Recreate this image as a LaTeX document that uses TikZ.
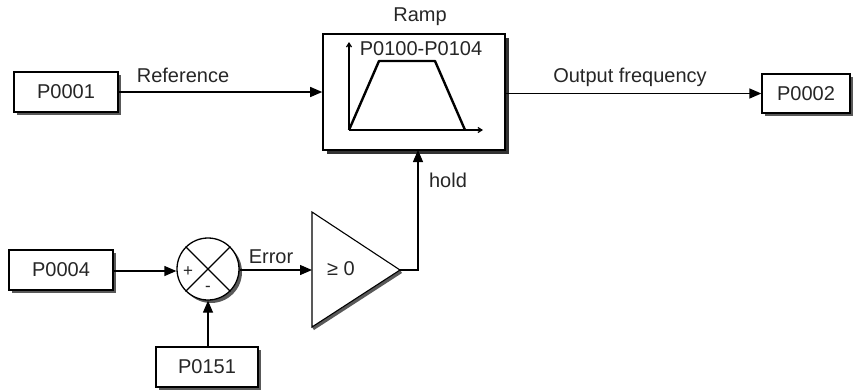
\documentclass[tikz,border=0pt]{standalone}
\usepackage{fontspec}
\setmainfont{Liberation Sans}
\usetikzlibrary{shadows,arrows.meta,calc}
\tikzset{
  pbox/.style={draw, line width=1.3pt, fill=white, inner sep=0pt,
    minimum width=104pt, minimum height=40pt,
    drop shadow={shadow xshift=3pt, shadow yshift=-3pt, fill=black!65, opacity=1}},
  conn/.style={line width=1.3pt, -{Triangle[length=12pt,width=10pt]}},
  lbl/.style={inner sep=0pt, text=black!85},
}
\begin{document}
\begin{tikzpicture}[x=1pt,y=-1pt, font=\fontsize{20}{22}\selectfont]
\useasboundingbox (0,0) rectangle (859,389);
% top row
\node[pbox, text=black!85] (p1) at (66,92) {P0001};
\node[draw, line width=1.6pt, fill=white, minimum width=182pt, minimum height=116pt, inner sep=0pt,
  drop shadow={shadow xshift=4pt, shadow yshift=-4pt, fill=black!80, opacity=1}] (ramp) at (414,92) {};
\node[pbox, text=black!85, minimum width=88pt, minimum height=39pt] (p2) at (806,93.5) {P0002};
\node[lbl] (ramplbl) at (420,17) {Ramp};
\node[lbl] (rangelbl) at (421,49) {P0100-P0104};
% ramp chart
\coordinate (o) at (349,130);
\coordinate (yt) at (349,42);
\coordinate (xt) at (483,130);
\draw[line width=1.2pt, -{Straight Barb[length=4pt,width=5pt]}] (o) -- (yt);
\draw[line width=1.2pt, -{Straight Barb[length=4pt,width=5pt]}] (o) -- (xt);
\coordinate (t1) at (379,61);
\coordinate (t2) at (435,61);
\coordinate (t3) at (465,130);
\draw[line width=2.4pt, line join=round] (o) -- (t1) -- (t2) -- (t3);
% connectors top
\draw[conn] (p1.east) -- (ramp.west);
\node[lbl] (reflbl) at (183,75) {Reference};
\draw[conn] (ramp.east |- p2.west) -- (p2.west);
\node[lbl] (outlbl) at (630,77) {Output frequency};
% bottom row
\node[pbox, text=black!85] (p4) at (61,270) {P0004};
\node[draw, circle, line width=1.3pt, fill=white, minimum size=62pt, inner sep=0pt,
  drop shadow={shadow xshift=3pt, shadow yshift=-3pt, fill=black!65, opacity=1}] (sum) at (208,269) {};
\draw[line width=1.2pt] (sum.north east) -- (sum.south west);
\draw[line width=1.2pt] (sum.north west) -- (sum.south east);
\node[lbl, font=\fontsize{17}{18}\selectfont] (plus) at (188,272) {+};
\node[lbl, font=\fontsize{17}{18}\selectfont] (minus) at (208,289) {-};
\node[pbox, text=black!85, minimum width=102pt] (p151) at (207,367) {P0151};
\draw[conn] (p4.east |- 0,271) -- (sum.west |- 0,271);
\draw[conn] (sum |- p151.north) -- (sum.south);
% comparator
\coordinate (ctop) at (312,212);
\coordinate (cbot) at (312,327);
\coordinate (cmpA) at (400,270);
\coordinate (cmpIn) at (312,270);
\fill[black!65] ($(cbot)+(2,3)$) -- ($(cmpA)+(2,3)$) -- (cmpA) -- (cbot) -- cycle;
\draw[line width=1.1pt, fill=white, line join=miter] (ctop) -- (cmpA) -- (cbot) -- cycle;
\node[lbl] (gelbl) at (341,269) {≥ 0};
\draw[conn] (sum.east |- cmpIn) -- (cmpIn);
\node[lbl] (errlbl) at (271,257) {Error};
\coordinate (holdpt) at (418,150);
\draw[conn] (cmpA) -| (holdpt);
\node[lbl] (holdlbl) at (448,180) {hold};
\end{tikzpicture}
\end{document}
